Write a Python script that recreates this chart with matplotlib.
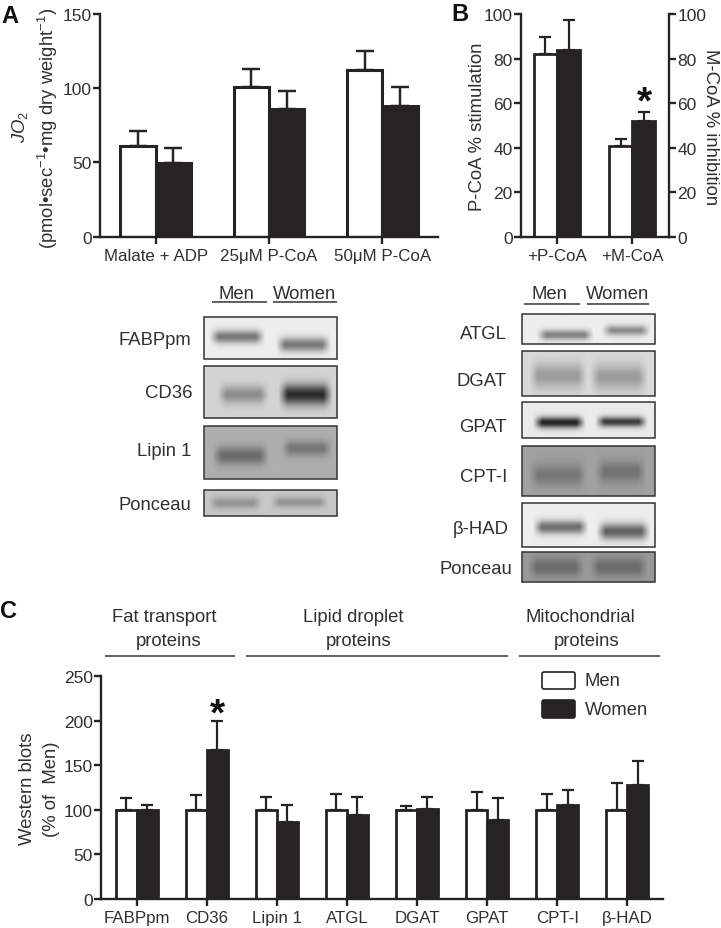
import numpy as np
import matplotlib
matplotlib.use('Agg')
import matplotlib.pyplot as plt
from matplotlib.patches import FancyBboxPatch, Rectangle

W, H = 721, 929
INK = '#262324'
LABEL_SIZE = 13.3
plt.rcParams['font.family'] = ['Liberation Sans', 'DejaVu Sans']
plt.rcParams['mathtext.fontset'] = 'custom'
plt.rcParams['mathtext.rm'] = 'Liberation Sans'
plt.rcParams['mathtext.it'] = 'Liberation Sans:italic'
plt.rcParams['mathtext.bf'] = 'Liberation Sans:bold'
plt.rcParams['text.color'] = '#303030'

# panel A
a_labels = ['Malate + ADP', '25\u03bcM P-CoA', '50\u03bcM P-CoA']
a_men = [61, 101, 112]
a_men_top = [71, 113, 125]
a_women = [49.5, 86, 88]
a_women_top = [60, 98, 101]

# panel B
b_labels = ['+P-CoA', '+M-CoA']
b_men = [82, 41]
b_men_top = [89.5, 44]
b_women = [84, 52]
b_women_top = [97.5, 56]

# panel C
c_labels = ['FABPpm', 'CD36', 'Lipin 1', 'ATGL', 'DGAT', 'GPAT', 'CPT-I', '\u03b2-HAD']
c_men = [100, 100, 100, 100, 100, 100, 100, 100]
c_men_top = [113, 117, 114, 118, 104, 120, 118, 130]
c_women = [100, 167, 86, 94, 101, 89, 105, 128]
c_women_top = [105, 199, 105, 114, 114, 113, 122, 155]

# blots: name, background grey, (x0, x1, y, sigma, darkness) for men and women
left_blots = [
    ('FABPpm', 0.93, (0.04, 0.46, 0.47, 0.11, 0.46), (0.54, 0.96, 0.66, 0.12, 0.46)),
    ('CD36', 0.83, (0.10, 0.49, 0.55, 0.12, 0.28), (0.56, 0.97, 0.55, 0.14, 0.66)),
    ('Lipin 1', 0.68, (0.06, 0.49, 0.56, 0.12, 0.26), (0.58, 0.97, 0.42, 0.10, 0.22)),
    ('Ponceau', 0.78, (0.03, 0.44, 0.50, 0.16, 0.20), (0.50, 0.94, 0.47, 0.14, 0.20)),
]
right_blots = [
    ('ATGL', 0.93, (0.11, 0.54, 0.70, 0.12, 0.42), (0.60, 0.97, 0.55, 0.12, 0.38)),
    ('DGAT', 0.85, (0.05, 0.49, 0.55, 0.20, 0.24), (0.51, 0.95, 0.58, 0.20, 0.24)),
    ('GPAT', 0.92, (0.08, 0.48, 0.57, 0.11, 0.78), (0.55, 0.95, 0.55, 0.10, 0.68)),
    ('CPT-I', 0.63, (0.05, 0.49, 0.58, 0.16, 0.16), (0.55, 0.94, 0.52, 0.16, 0.18)),
    ('\u03b2-HAD', 0.93, (0.08, 0.50, 0.55, 0.11, 0.50), (0.56, 0.97, 0.65, 0.13, 0.55)),
    ('Ponceau', 0.60, (0.04, 0.47, 0.50, 0.22, 0.18), (0.51, 0.95, 0.50, 0.22, 0.18)),
]
# pixel rows of each blot: top, bottom, label centre, label right edge
left_rows = [(318, 360, 340, 191), (367, 419, 393, 192), (427, 480, 451, 191), (491, 517, 506, 191)]
right_rows = [(315, 345, 334, 507), (352, 397, 381, 507), (403, 439, 427, 507),
              (447, 497, 477, 507), (504, 548, 530, 509), (553, 583, 569, 512)]


def px_axes(l, t, r, b):
    return fig.add_axes([l / W, 1 - b / H, (r - l) / W, (b - t) / H], facecolor='none')


def paired_bars(ax, labels, men, men_top, women, women_top, w, lw, cap):
    x = np.arange(len(labels))
    men, women = np.array(men), np.array(women)
    ax.errorbar(x - w / 2, men, yerr=[0 * men, np.array(men_top) - men], fmt='none', ecolor=INK,
                elinewidth=lw * 0.8, capsize=cap, capthick=lw * 0.8, zorder=1)
    ax.errorbar(x + w / 2, women, yerr=[0 * women, np.array(women_top) - women], fmt='none', ecolor=INK,
                elinewidth=lw * 0.8, capsize=cap, capthick=lw * 0.8, zorder=1)
    ax.bar(x - w / 2, men, w, color='white', edgecolor=INK, linewidth=lw, zorder=2)
    ax.bar(x + w / 2, women, w, color=INK, edgecolor=INK, linewidth=lw, zorder=2)
    ax.set_xticks(x)
    ax.set_xticklabels(labels)
    style_axis(ax)
    ax.spines['right'].set_visible(False)


def style_axis(ax, ysize=12.5):
    ax.spines['top'].set_visible(False)
    for s in ax.spines.values():
        s.set_linewidth(1.7)
        s.set_color(INK)
    ax.tick_params(axis='x', width=1.7, length=5, color=INK, labelcolor='#303030', labelsize=12.2, pad=3)
    ax.tick_params(axis='y', width=1.7, length=5, color=INK, labelcolor='#303030', labelsize=ysize, pad=1)


def draw_blot(name, bg, men, women, row, left, right):
    top, bot, ly, lx = row
    ny, nx = 80, 200
    yy, xx = np.mgrid[0:1:ny * 1j, 0:1:nx * 1j]
    img = np.full((ny, nx), bg, dtype=float)
    for x0, x1, yc, sig, dark in (men, women):
        edge = np.clip((xx - x0) / 0.07, 0, 1) * np.clip((x1 - xx) / 0.07, 0, 1)
        img -= dark * edge * np.exp(-((yy - yc) / sig) ** 2 / 2)
    canvas.imshow(img, cmap='gray', vmin=0, vmax=1, extent=(left, right, bot, top), aspect='auto',
                  interpolation='bilinear', zorder=1)
    canvas.add_patch(Rectangle((left, top), right - left, bot - top, fill=False, ec='#333333', lw=1.1, zorder=2))
    canvas.text(lx, ly, name, ha='right', va='center', fontsize=LABEL_SIZE)


fig = plt.figure(figsize=(W / 100, H / 100), dpi=100)

# full-figure layer in pixel coordinates for the blots and free text
canvas = fig.add_axes([0, 0, 1, 1])
canvas.axis('off')

# A
ax = px_axes(100, 15, 438, 237.5)
paired_bars(ax, a_labels, a_men, a_men_top, a_women, a_women_top, 0.31, 2.2, 6.5)
ax.set_xlim(-0.49, 2.49)
ax.set_ylim(0, 150)
ax.set_yticks([0, 50, 100, 150])

# B
ax = px_axes(521, 15, 669, 238)
paired_bars(ax, b_labels, b_men, b_men_top, b_women, b_women_top, 0.31, 2.0, 4.5)
ax.set_xlim(-0.48, 1.49)
ax.set_ylim(0, 100)
ax.set_yticks([0, 20, 40, 60, 80, 100])
ax2 = ax.twinx()
ax2.set_ylim(0, 100)
ax2.set_yticks([0, 20, 40, 60, 80, 100])
ax2.patch.set_visible(False)
style_axis(ax2)
ax2.spines['left'].set_visible(False)
ax2.spines['bottom'].set_visible(False)

# C
ax = px_axes(101, 677, 663, 900)
paired_bars(ax, c_labels, c_men, c_men_top, c_women, c_women_top, 0.3, 2.0, 4.5)
ax.set_xlim(-0.508, 7.51)
ax.set_ylim(0, 250)
ax.set_yticks([0, 50, 100, 150, 200, 250])

# blots
for blot, row in zip(left_blots, left_rows):
    draw_blot(*blot, row, 204, 337)
for blot, row in zip(right_blots, right_rows):
    draw_blot(*blot, row, 522, 655)

canvas.set_xlim(0, W)
canvas.set_ylim(H, 0)


def hline(x0, x1, y, lw=1.2):
    canvas.plot([x0, x1], [y, y], color='#444444', lw=lw, solid_capstyle='butt')


for x0, x1, y in [(212, 267, 303), (273, 337, 303), (524, 580, 305), (587, 649, 305),
                  (105, 235, 657), (246, 508, 657), (519, 660, 657)]:
    hline(x0, x1, y)

for x, y, s in [(236, 294, 'Men'), (305, 294, 'Women'), (549, 294, 'Men'), (618, 294, 'Women'),
                (164, 618, 'Fat transport'), (169, 641, 'proteins'),
                (353, 618, 'Lipid droplet'), (359, 641, 'proteins'),
                (580, 618, 'Mitochondrial'), (587, 641, 'proteins')]:
    canvas.text(x, y, s, ha='center', va='center', fontsize=LABEL_SIZE)

# axis titles
canvas.text(20, 127, r'$\mathit{JO}_2$', rotation=90, ha='center', va='center', fontsize=LABEL_SIZE)
canvas.text(48, 128, '(pmol\u2022sec$^{-1}$\u2022mg dry weight$^{-1}$)', rotation=90,
            ha='center', va='center', fontsize=LABEL_SIZE)
canvas.text(477, 127, 'P-CoA % stimulation', rotation=90, ha='center', va='center', fontsize=LABEL_SIZE)
canvas.text(711, 127, 'M-CoA % inhibition', rotation=270, ha='center', va='center', fontsize=LABEL_SIZE)
canvas.text(28, 789, 'Western blots', rotation=90, ha='center', va='center', fontsize=LABEL_SIZE)
canvas.text(51, 789, '(% of  Men)', rotation=90, ha='center', va='center', fontsize=LABEL_SIZE)

# panel letters
for x, y, s in [(1, 16, 'A'), (451, 14, 'B'), (0, 612, 'C')]:
    canvas.text(x, y, s, ha='left', va='center', fontsize=17, fontweight='bold', color='#111111')

# significance stars
for x, y in [(644, 113), (217, 725)]:
    canvas.text(x, y, '*', ha='center', va='baseline', fontsize=28, fontweight='bold', color='#111111', zorder=5)

# legend
for y0, y1, fc, s in [(673, 690, 'white', 'Men'), (701, 719, INK, 'Women')]:
    canvas.add_patch(FancyBboxPatch((543, y0 + 1), 31, y1 - y0 - 2, boxstyle='round,pad=1,rounding_size=2',
                                    fc=fc, ec=INK, lw=1.2, zorder=3))
    canvas.text(585, (y0 + y1) / 2 + 0.5, s, ha='left', va='center', fontsize=LABEL_SIZE)

fig.savefig('out.png', dpi=100)
